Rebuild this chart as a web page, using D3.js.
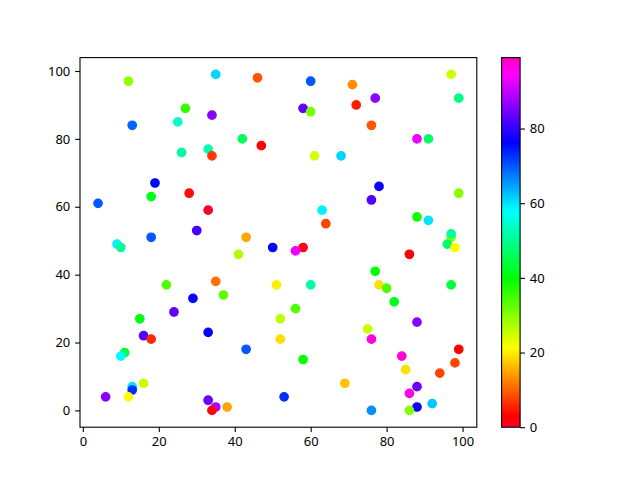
<!DOCTYPE html>
<html><head><meta charset="utf-8">
<script src="https://cdn.jsdelivr.net/npm/d3@7"></script>
<style>body{margin:0;background:#fff}svg{display:block}</style>
</head><body>
<script>
const xs = [12,35,46,60,71,97,99,77,58,60,72,27,34,13,25,76,42,88,91,47,26,33,34,61,68,19,78,28,99,4,18,76,33,63,88,91,64,30,97,97,18,43,96,98,9,10,50,58,56,86,41,
77,22,35,51,60,78,80,97,37,29,82,56,24,15,52,88,75,33,16,18,52,76,43,99,11,10,84,58,98,85,94,16,69,13,13,88,6,12,53,86,33,92,35,38,88,34,76,86];
const ys = [97,99,98,97,96,99,92,92,89,88,90,89,87,84,85,84,80,80,80,78,76,77,75,75,75,67,66,64,64,61,63,62,59,59,57,56,55,53,51,52,51,51,49,48,49,48,48,48,47,46,46,
41,37,38,37,37,37,36,37,34,33,32,30,29,27,27,26,24,23,22,21,21,21,18,18,17,16,16,15,14,12,11,8,8,7,6,7,4,4,4,5,3,2,1,1,1,0,0,0];
const cs = [29,61,9,70,13,25,49,86,83,31,5,36,86,69,54,9,46,93,47,3,51,52,7,24,61,76,77,4,30,70,41,82,0,59,38,60,8,81,30,51,70,15,47,21,59,51,77,1,93,3,27,
39,34,11,20,51,19,34,44,33,77,42,34,83,41,26,86,25,76,82,6,19,97,70,3,44,58,97,39,8,19,8,25,17,60,73,84,86,21,73,96,84,62,89,15,77,2,66,30];
const cLimits = [0, 99];
const xTicks = [0,20,40,60,80,100];
const yTicks = [0,20,40,60,80,100];
const cTicks = [0,20,40,60,80];

// gist_rainbow colormap
const cmapPos = [0,0.03,0.215,0.4,0.586,0.77,0.954,1];
const cmapCol = ["rgb(255,0,41)","rgb(255,0,0)","rgb(255,255,0)","rgb(0,255,0)","rgb(0,255,255)","rgb(0,0,255)","rgb(255,0,255)","rgb(255,0,191)"];
const cmap = d3.scaleLinear().domain(cmapPos).range(cmapCol).interpolate(d3.interpolateRgb).clamp(true);
const cnorm = d3.scaleLinear().domain(cLimits).range([0,1]).clamp(true);
const color = v => cmap(cnorm(v));

const W=640,H=480;
const L=80,R=476.8,T=57.6,B=427.2;
const font = "Noto Sans, DejaVu Sans, sans-serif";
const fs = 13;

const pad = (mn,mx)=>{const r=mx-mn;return [mn-0.05*r,mx+0.05*r];};
const x = d3.scaleLinear().domain(pad(d3.min(xs),d3.max(xs))).range([L,R]);
const y = d3.scaleLinear().domain(pad(d3.min(ys),d3.max(ys))).range([B,T]);

const svg = d3.select("body").append("svg").attr("width",W).attr("height",H);

const pts = xs.map((v,i)=>({x:v,y:ys[i],c:cs[i]}));
svg.append("g").selectAll("circle").data(pts).join("circle")
  .attr("cx",d=>x(d.x)).attr("cy",d=>y(d.y)).attr("r",4.17)
  .attr("fill",d=>color(d.c)).attr("stroke",d=>color(d.c)).attr("stroke-width",1.39);

function styleAxis(g){
  g.select(".domain").remove();
  g.selectAll(".tick line").attr("stroke","#000").attr("stroke-width",1.1);
  g.selectAll(".tick text").attr("font-family",font).attr("font-size",fs).attr("fill","#000");
}
svg.append("g").attr("transform",`translate(0,${B})`)
  .call(d3.axisBottom(x).tickValues(xTicks).tickSize(4.86).tickPadding(4.86).tickFormat(d3.format("d")))
  .call(styleAxis);
svg.append("g").attr("transform",`translate(${L},0)`)
  .call(d3.axisLeft(y).tickValues(yTicks).tickSize(4.86).tickPadding(4.86).tickFormat(d3.format("d")))
  .call(styleAxis);
svg.append("rect").attr("x",L).attr("y",T).attr("width",R-L).attr("height",B-T)
  .attr("fill","none").attr("stroke","#000").attr("stroke-width",1.1);

// colorbar
const cbL=501.6, cbR=520.1;
const cy = d3.scaleLinear().domain(cLimits).range([B,T]);
const defs = svg.append("defs");
const grad = defs.append("linearGradient").attr("id","cg").attr("x1",0).attr("y1",1).attr("x2",0).attr("y2",0);
grad.selectAll("stop").data(d3.range(0,1.0001,0.01)).join("stop")
  .attr("offset",d=>d).attr("stop-color",d=>cmap(d));
svg.append("rect").attr("x",cbL).attr("y",T).attr("width",cbR-cbL).attr("height",B-T).attr("fill","url(#cg)");
svg.append("g").attr("transform",`translate(${cbR},0)`)
  .call(d3.axisRight(cy).tickValues(cTicks).tickSize(4.86).tickPadding(4.86).tickFormat(d3.format("d")))
  .call(styleAxis);
svg.append("rect").attr("x",cbL).attr("y",T).attr("width",cbR-cbL).attr("height",B-T)
  .attr("fill","none").attr("stroke","#000").attr("stroke-width",1.1);
</script>
</body></html>
